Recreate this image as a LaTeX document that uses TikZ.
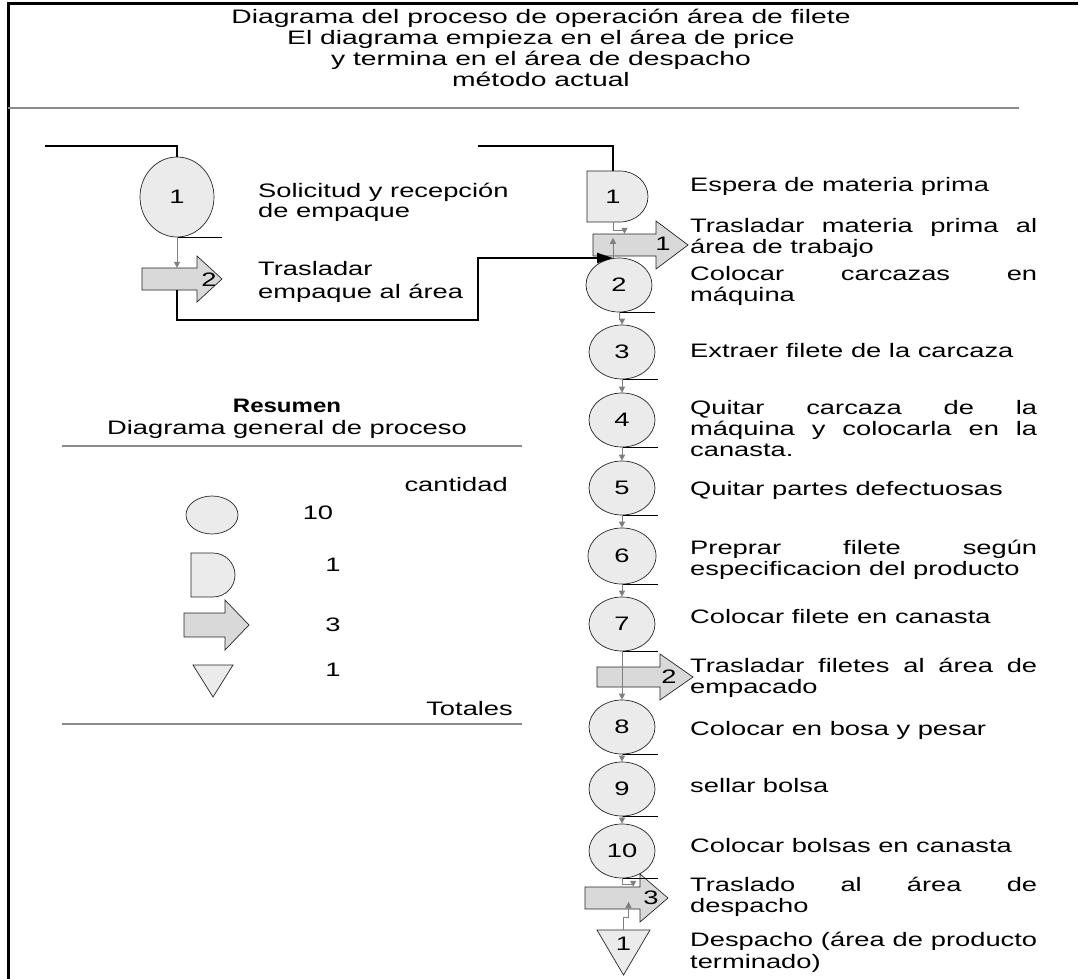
\documentclass[tikz,border=0pt]{standalone}
\usepackage{graphicx}
\usepackage{fontspec}
\setmainfont{Liberation Sans}[FakeStretch=1.4]
\newfontfamily\titlefont{Liberation Sans}[FakeStretch=1.45]
\usetikzlibrary{shapes.geometric,arrows.meta,calc}
\definecolor{opfill}{HTML}{EBEBEB}
\definecolor{arrfill}{HTML}{D9D9D9}
\definecolor{connc}{HTML}{7F7F7F}
\definecolor{rulec}{HTML}{8C8C8C}
% block arrow: name, left x, head base x, tip x, centre y, body half, head half
\newcommand\flecha[7]{%
  \draw[arr] (#2,#5-#6) -- (#3,#5-#6) -- (#3,#5-#7) -- (#4,#5) -- (#3,#5+#7)
    -- (#3,#5+#6) -- (#2,#5+#6) -- cycle;
  \node[minimum width=#3-#2, minimum height=2*#6] (#1) at ({(#2+#3)/2},#5) {};}
\begin{document}
\begin{tikzpicture}[x=1pt,y=-1pt,
  every node/.style={font=\fontsize{19.5}{21}\selectfont, inner sep=0pt},
  op/.style={ellipse, draw=black!85, line width=0.7pt, fill=opfill,
             minimum width=66pt, minimum height=54pt},
  shp/.style={draw=black!85, line width=0.7pt, fill=opfill},
  arr/.style={draw=black!85, line width=0.7pt, fill=arrfill},
  conn/.style={draw=connc, line width=1pt, -{Triangle[width=6pt,length=6pt]}},
  stub/.style={draw=black, line width=0.6pt},
  flow/.style={draw=black, line width=2pt},
  txt/.style={anchor=base west},
  ctr/.style={anchor=base},
  ttl/.style={anchor=base, font=\titlefont\fontsize{19.5}{21}\selectfont},
  rulestyle/.style={draw=rulec, line width=2.5pt}]
\useasboundingbox (0,0) rectangle (1082,979);

% frame and rules
\draw[line width=3pt] (1078,4) -- (8,4) -- (8,979);
\draw[rulestyle] (8,108) -- (1019,108);
\draw[rulestyle] (62,446) -- (522,446);
\draw[rulestyle] (62,724) -- (522,724);

% title
\node[ttl] (t1l) at (541,24) {Diagrama del proceso de operación área de filete};
\node[ttl] (t2l) at (541,45) {El diagrama empieza en el área de price};
\node[ttl] (t3l) at (541,66) {y termina en el área de despacho};
\node[ttl] (t4l) at (541,87) {método actual};

% ---------- packaging branch ----------
\node[op, minimum width=74pt, minimum height=80pt] (c1) at (177,197) {1};
\flecha{a2}{142}{197}{222}{279}{11}{23}
\node (a2n) at (209,280) {2};
\node[txt] (l1a) at (258,197) {Solicitud y recepción};
\node[txt] (l1b) at (258,218) {de empaque};
\node[txt] (l2a) at (258,275) {Trasladar};
\node[txt] (l2b) at (258,298) {empaque al área};

% ---------- main column ----------
\draw[shp] (587,171) -- (620,171) arc[start angle=-90,end angle=90,x radius=28,y radius=25.5]
  -- (587,222) -- cycle;
\node[minimum width=61pt, minimum height=51pt] (d1) at (617.5,196.5) {};
\node (d1n) at (613,196.5) {1};

\flecha{t1}{593}{656}{688}{245}{11}{24}
\node (t1n) at (663,244) {1};

\node[op] (c2) at (619,285) {2};
\node[op] (c3) at (622,352) {3};
\node[op] (c4) at (622,420) {4};
\node[op] (c5) at (622,488) {5};
\node[op, minimum width=68pt, minimum height=56pt] (c6) at (622,556) {6};
\node[op] (c7) at (622,624) {7};
\flecha{t2}{597}{660}{693}{677}{10}{23}
\node (t2n) at (669,677) {2};
\node[op] (c8) at (622,727) {8};
\node[op] (c9) at (622,789) {9};
\node[op] (c10) at (622,851) {10};
\flecha{t3}{585}{640}{668}{898}{11}{24}
\node (t3n) at (651,898) {3};
\draw[shp] (597,930) -- (650,930) -- (623.5,975) -- cycle;
\node[minimum width=53pt, minimum height=45pt] (tri) at (623.5,952.5) {};
\node (trin) at (623.5,944) {1};

% free ends of the black flow lines
\coordinate (s1) at (45,146);
\coordinate (s2) at (478,146);
\coordinate (k2) at (478,320);
\coordinate (j1) at (613,258);

% connectors
\draw[flow] (s1) -| (c1.north);
\draw[flow] (s2) -| ([xshift=-4.5pt]d1.north);
\draw[stub] (c1.south) -- ++(45,0);
\draw[conn] (c1.south) -- (c1.south |- a2.north);
\draw[flow, -{Triangle[width=10pt,length=16pt]}] (a2.south -| c1.south) |- (k2) |- (j1);
\draw[conn] ([xshift=-4.5pt]d1.south) -- ++(0,8) -| (t1.north);
\draw[conn] (c2.north -| j1) -- ($(t1.north -| j1)+(0,4)$);
\foreach \n in {2,...,10} {\draw[stub] (c\n.south) -- ++(36,0);}
\draw[conn] (c2.south) -- ++(0,7) -| (c3.north);
\draw[conn] (c3.south) -- (c4.north);
\draw[conn] (c4.south) -- (c5.north);
\draw[conn] (c5.south) -- (c6.north);
\draw[conn] (c6.south) -- (c7.north);
\draw[conn] (c7.south) -- (c8.north);
\draw[conn] (c8.south) -- (c9.north);
\draw[conn] (c9.south) -- (c10.north);
\draw[conn] (c10.south) -- ++(0,6) -| ([xshift=-7pt]t3.north east);
\draw[conn] (tri.north) -- ++(0,-12) -| ($(tri.north)+(5,-28)$);

% step descriptions
\node[txt] (e1) at (690,191) {Espera de materia prima};
\node[txt] (e2a) at (690,232) {\makebox[347pt][s]{Trasladar materia prima al}};
\node[txt] (e2b) at (690,253) {área de trabajo};
\node[txt] (e3a) at (690,280) {\makebox[347pt][s]{Colocar carcazas en}};
\node[txt] (e3b) at (690,301) {máquina};
\node[txt] (e4) at (690,357) {Extraer filete de la carcaza};
\node[txt] (e5a) at (690,414) {\makebox[347pt][s]{Quitar carcaza de la}};
\node[txt] (e5b) at (690,435) {\makebox[347pt][s]{máquina y colocarla en la}};
\node[txt] (e5c) at (690,456) {canasta.};
\node[txt] (e6) at (690,495) {Quitar partes defectuosas};
\node[txt] (e7a) at (690,554) {\makebox[347pt][s]{Preprar filete según}};
\node[txt] (e7b) at (690,575) {especificacion del producto};
\node[txt] (e8) at (690,623) {Colocar filete en canasta};
\node[txt] (e9a) at (690,672) {\makebox[347pt][s]{Trasladar filetes al área de}};
\node[txt] (e9b) at (690,693) {empacado};
\node[txt] (e10) at (690,735) {Colocar en bosa y pesar};
\node[txt] (e11) at (690,792) {sellar bolsa};
\node[txt] (e12) at (690,852) {Colocar bolsas en canasta};
\node[txt] (e13a) at (690,891) {\makebox[347pt][s]{Traslado al área de}};
\node[txt] (e13b) at (690,912) {despacho};
\node[txt] (e14a) at (690,946) {\makebox[347pt][s]{Despacho (área de producto}};
\node[txt] (e14b) at (690,968) {terminado)};

% ---------- summary ----------
\node[ctr] (r1) at (287,412) {\scalebox{0.88}[1]{\bfseries Resumen}};
\node[ctr] (r2) at (287,434) {Diagrama general de proceso};
\node[anchor=base east] (r3) at (508,491) {cantidad};
\node[op, minimum width=52pt, minimum height=38pt] (lc) at (212,515) {};
\node (lcn) at (318,513) {10};
\draw[shp] (191,553) -- (213,553) arc[start angle=-90,end angle=90,x radius=22,y radius=22]
  -- (191,597) -- cycle;
\node[minimum width=44pt, minimum height=44pt] (ld) at (213,575) {};
\node (ldn) at (333,565) {1};
\flecha{la}{184}{225}{249}{625}{12}{25}
\node (lan) at (333,625) {3};
\draw[shp] (193,665) -- (233,665) -- (213,697) -- cycle;
\node[minimum width=40pt, minimum height=32pt] (lt) at (213,681) {};
\node (ltn) at (333,670) {1};
\node[anchor=base east] (r4) at (513,715) {Totales};
\end{tikzpicture}
\end{document}
